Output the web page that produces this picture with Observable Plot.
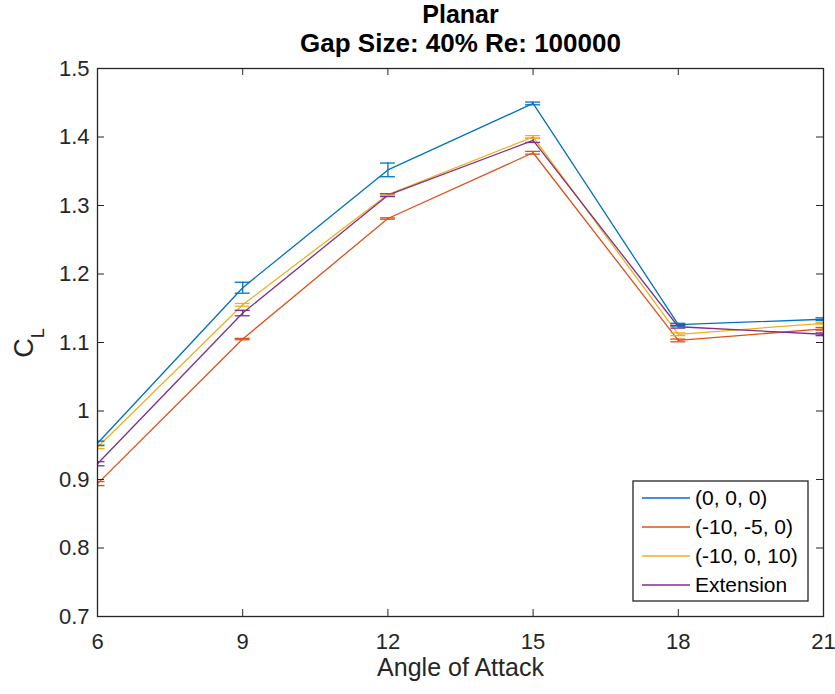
<!DOCTYPE html>
<html><head><meta charset="utf-8">
<script src="https://cdn.jsdelivr.net/npm/d3@7"></script>
<script src="https://cdn.jsdelivr.net/npm/@observablehq/plot@0.6"></script>
<style>body{margin:0;background:#fff}</style>
</head><body><div id="chart"></div>
<script>
const angles = [6, 9, 12, 15, 18, 21];
const seriesNames = ["(0, 0, 0)", "(-10, -5, 0)", "(-10, 0, 10)", "Extension"];
const seriesColors = ["#0072BD", "#D95319", "#EDB120", "#7E2F8E"];
const cl_000 = [0.953, 1.180, 1.352, 1.449, 1.126, 1.134];
const err_000 = [0.003, 0.008, 0.010, 0.002, 0.002, 0.002];
const cl_m10m50 = [0.894, 1.105, 1.281, 1.377, 1.103, 1.120];
const err_m10m50 = [0.003, 0.001, 0.001, 0.002, 0.002, 0.002];
const cl_m10010 = [0.947, 1.155, 1.316, 1.400, 1.112, 1.128];
const err_m10010 = [0.002, 0.002, 0.001, 0.002, 0.002, 0.001];
const cl_ext = [0.923, 1.143, 1.315, 1.395, 1.123, 1.112];
const err_ext = [0.003, 0.004, 0.002, 0.003, 0.002, 0.002];
const xTicks = [6, 9, 12, 15, 18, 21];
const yTicks = [0.7, 0.8, 0.9, 1.0, 1.1, 1.2, 1.3, 1.4, 1.5];
const titleLines = ["Planar", "Gap Size: 40% Re: 100000"];
const xLabel = "Angle of Attack";

const allCl = [cl_000, cl_m10m50, cl_m10010, cl_ext];
const allErr = [err_000, err_m10m50, err_m10010, err_ext];
const rows = [];
seriesNames.forEach((s, i) => angles.forEach((a, j) => rows.push({series: s, angle: a, cl: allCl[i][j], err: allErr[i][j]})));

const W = 835, H = 694, mL = 97, mR = 12, mT = 68, mB = 78;
const fw = W - mL - mR, fh = H - mT - mB;
const axisColor = "#262626";
const capHalf = 0.155;
const font = "'Liberation Sans', Arial, Helvetica, sans-serif";

const plot = Plot.plot({
  width: W, height: H,
  marginLeft: mL, marginRight: mR, marginTop: mT, marginBottom: mB,
  style: {fontFamily: font, fontSize: "22px", color: "#262626", background: "#fff"},
  x: {domain: [6, 21]},
  y: {domain: [0.7, 1.5]},
  color: {domain: seriesNames, range: seriesColors},
  marks: [
    Plot.line(rows, {x: "angle", y: "cl", stroke: "series", z: "series", strokeWidth: 1.3, clip: true}),
    Plot.ruleX(rows, {x: "angle", y1: d => d.cl - d.err, y2: d => d.cl + d.err, stroke: "series", strokeWidth: 1.3, clip: true}),
    Plot.ruleY(rows, {y: d => d.cl + d.err, x1: d => d.angle - capHalf, x2: d => d.angle + capHalf, stroke: "series", strokeWidth: 1.3, clip: true}),
    Plot.ruleY(rows, {y: d => d.cl - d.err, x1: d => d.angle - capHalf, x2: d => d.angle + capHalf, stroke: "series", strokeWidth: 1.3, clip: true}),
    Plot.tickX(xTicks, {x: d => d, insetTop: fh - 7, stroke: axisColor}),
    Plot.tickX(xTicks, {x: d => d, insetBottom: fh - 7, stroke: axisColor}),
    Plot.tickY(yTicks, {y: d => d, insetRight: fw - 7, stroke: axisColor}),
    Plot.tickY(yTicks, {y: d => d, insetLeft: fw - 7, stroke: axisColor}),
    Plot.frame({stroke: axisColor, strokeWidth: 1.3}),
    Plot.axisX({ticks: xTicks, tickSize: 0, tickPadding: 17, label: null, tickFormat: d => String(d), fontSize: 22}),
    Plot.axisY({ticks: yTicks, tickSize: 0, tickPadding: 8, label: null, tickFormat: d => String(+d.toFixed(1)), fontSize: 22}),
    Plot.text([xLabel], {text: d => d, frameAnchor: "bottom", lineAnchor: "middle", dy: 51, fontSize: 25, fill: "#262626"}),
    Plot.text([titleLines[0]], {text: d => d, frameAnchor: "top", lineAnchor: "middle", dy: -54, fontSize: 25, fontWeight: "bold", fill: "#000"}),
    Plot.text([titleLines[1]], {text: d => d, frameAnchor: "top", lineAnchor: "middle", dy: -25, fontSize: 26, fontWeight: "bold", fill: "#000"})
  ]
});
document.getElementById("chart").append(plot);

const svg = d3.select(plot);
// Y label C_L
const yl = svg.append("text")
  .attr("transform", "translate(33,343) rotate(-90)")
  .attr("text-anchor", "middle")
  .attr("font-family", font)
  .attr("font-size", 27)
  .attr("fill", "#262626");
yl.append("tspan").text("C");
yl.append("tspan").attr("font-size", 18).attr("dy", 11).text("L");

// Legend
const lg = svg.append("g");
lg.append("rect").attr("x", 633).attr("y", 481).attr("width", 175).attr("height", 120)
  .attr("fill", "#fff").attr("stroke", axisColor).attr("stroke-width", 1.3);
seriesNames.forEach((s, i) => {
  const y = 498 + i * 29;
  lg.append("line").attr("x1", 642).attr("x2", 690).attr("y1", y).attr("y2", y)
    .attr("stroke", seriesColors[i]).attr("stroke-width", 1.3);
  lg.append("text").attr("x", 695).attr("y", y).attr("dy", "0.35em")
    .attr("text-anchor", "start").attr("font-family", font)
    .attr("font-size", 21).attr("fill", "#000").text(s);
});
</script>
</body></html>
